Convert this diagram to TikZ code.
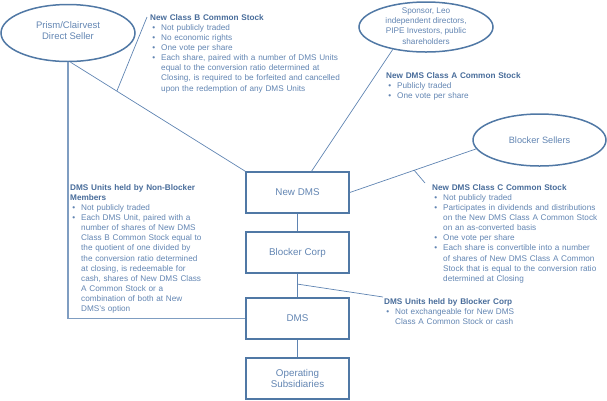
\documentclass[tikz,border=0pt]{standalone}
\usepackage{fontspec}
\setmainfont{Liberation Sans}
\usetikzlibrary{shapes.geometric}
\definecolor{boxc}{RGB}{80,120,165}
\definecolor{txtc}{RGB}{98,133,178}
\definecolor{headc}{RGB}{72,108,154}
\definecolor{linec}{RGB}{95,132,178}
\newenvironment{blist}{\list{\textbullet}{\leftmargin=11pt\labelwidth=5pt\labelsep=6pt\itemindent=0pt
  \itemsep=0pt\parsep=0pt\topsep=0pt\partopsep=0pt\parskip=0pt}}{\endlist}
\newcommand\hd[1]{\noindent{\bfseries\color{headc}#1}\par}
\tikzset{
  ell/.style={ellipse, draw=boxc, line width=1.5pt, inner sep=0pt},
  boxn/.style={rectangle, draw=boxc, line width=1.5pt, minimum width=103pt, minimum height=41pt, inner sep=0pt,
     text=txtc, align=center, font=\fontsize{9.8}{11.8}\selectfont},
  etxt/.style={text=txtc, align=center, inner sep=0pt},
  txt/.style={text=txtc, inner sep=0pt, anchor=base west, text width=240pt,
     font=\fontsize{8.2}{10.15}\selectfont},
  conn/.style={draw=linec, line width=0.7pt},
  thick conn/.style={draw=linec!80, line width=1.1pt},
}
\begin{document}
\begin{tikzpicture}[x=1pt, y=-1pt]
\useasboundingbox (0,0) rectangle (607,400);
% ellipses
\node[ell, minimum width=134pt, minimum height=57pt] (prism) at (68,33) {};
\node[etxt, font=\fontsize{9.5}{11}\selectfont] (prismt) at (68,31) {Prism/Clairvest\\Direct Seller};
\node[ell, minimum width=134pt, minimum height=50pt] (sponsor) at (426,27) {};
\node[etxt, font=\fontsize{8.2}{10.2}\selectfont] (sponsort) at (426,26) {Sponsor, Leo\\independent directors,\\PIPE Investors, public\\shareholders};
\node[ell, minimum width=133pt, minimum height=52pt] (sellers) at (539.5,140) {};
\node[etxt, font=\fontsize{9.2}{11}\selectfont] (sellerst) at (539.5,140) {Blocker Sellers};
% boxes
\node[boxn] (newdms) at (297.5,192.5) {New DMS};
\node[boxn] (blocker) at (297.5,252.5) {Blocker Corp};
\node[boxn] (dms) at (297.5,318.5) {DMS};
\node[boxn] (ops) at (297.5,378.5) {Operating\\Subsidiaries};
% connectors
\draw[conn] (prism.-85) -- (newdms.north west) coordinate[pos=0.265] (cBbot);
\draw[thick conn] (prism.south) |- (dms.west);
\draw[conn] (sponsor.-146) -- ([xshift=14pt]newdms.north);
\draw[conn] (newdms.east) -- (sellers.188) coordinate[pos=0.51] (cCbot);
\draw[conn] (newdms) -- (blocker);
\draw[conn] (blocker) -- (dms) coordinate[pos=0.44] (cUbot);
\draw[conn] (dms) -- (ops);
\coordinate (cBtop) at (147,17);
\coordinate (cCtop) at (425,183);
\coordinate (cUtop) at (383,297);
\draw[conn] (cBbot) -- (cBtop);
\draw[conn] (cCbot) -- (cCtop);
\draw[conn] (cUbot) -- (cUtop);
% texts
\node[txt] (classB) at (150,20) {\hd{New Class B Common Stock}
\begin{blist}
\item Not publicly traded
\item No economic rights
\item One vote per share
\item Each share, paired with a number of DMS Units\\equal to the conversion ratio determined at\\Closing, is required to be forfeited and cancelled\\upon the redemption of any DMS Units
\end{blist}};
\node[txt] (classA) at (386,78.5) {\hd{New DMS Class A Common Stock}
\begin{blist}
\item Publicly traded
\item One vote per share
\end{blist}};
\node[txt] (classC) at (432,190) {\hd{New DMS Class C Common Stock}
\begin{blist}
\item Not publicly traded
\item Participates in dividends and distributions\\on the New DMS Class A Common Stock\\on an as-converted basis
\item One vote per share
\item Each share is convertible into a number\\of shares of New DMS Class A Common\\Stock that is equal to the conversion ratio\\determined at Closing
\end{blist}};
\node[txt] (nonblock) at (70,190) {\hd{DMS Units held by Non-Blocker\\Members}
\begin{blist}
\item Not publicly traded
\item Each DMS Unit, paired with a\\number of shares of New DMS\\Class B Common Stock equal to\\the quotient of one divided by\\the conversion ratio determined\\at closing, is redeemable for\\cash, shares of New DMS Class\\A Common Stock or a\\combination of both at New\\DMS's option
\end{blist}};
\node[txt] (blockunits) at (384,304) {\hd{DMS Units held by Blocker Corp}
\begin{blist}
\item Not exchangeable for New DMS\\Class A Common Stock or cash
\end{blist}};
\end{tikzpicture}
\end{document}
